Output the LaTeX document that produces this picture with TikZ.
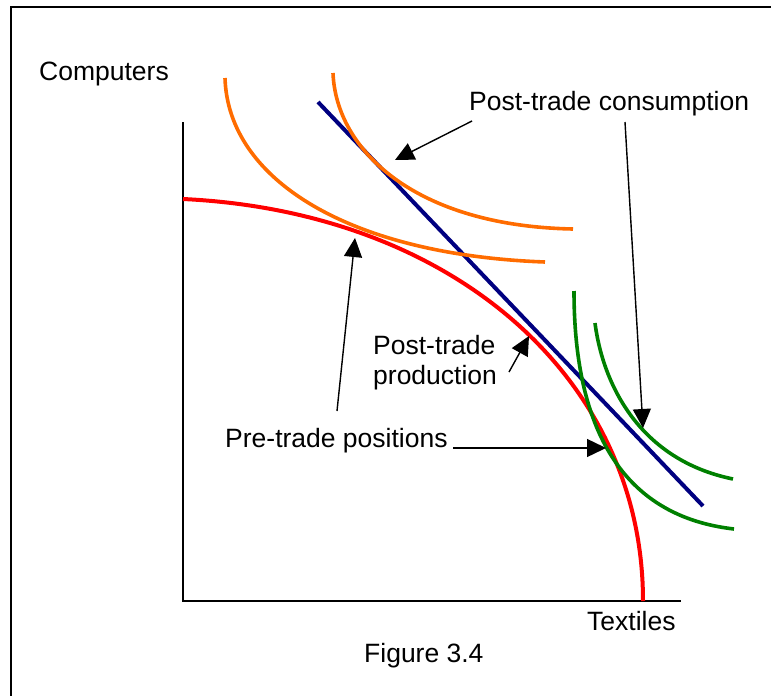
\documentclass[tikz,border=0pt]{standalone}
\usepackage{fontspec}
\setmainfont{Liberation Sans}
\usepackage{tikz}
\usetikzlibrary{arrows.meta}
\definecolor{PPFRed}{RGB}{255,0,0}
\definecolor{ICOrange}{RGB}{255,108,0}
\definecolor{ICGreen}{RGB}{0,128,0}
\definecolor{TradeNavy}{RGB}{0,0,128}

\begin{document}
\begin{tikzpicture}[
  x=1pt, y=-1pt,
  lbl/.style={
    inner sep=0pt, anchor=base west,
    font=\fontsize{26.5}{30}\selectfont
  },
  axis/.style={draw=black, line width=2pt},
  ppf/.style={draw=PPFRed, line width=4pt},
  icor/.style={draw=ICOrange, line width=3.6pt},
  icgr/.style={draw=ICGreen, line width=3.6pt},
  tradeline/.style={draw=TradeNavy, line width=4pt},
  arr/.style={draw=black, line width=1.4pt,
    -{Triangle[length=19pt,width=18pt]}}
]
\useasboundingbox (0,0) rectangle (771,696);

%% Frame
\draw[line width=2pt] (11,696) -- (11,7) -- (771,7);

%% Axes
\coordinate (o) at (183,601);
\draw[axis] (183,122) -- (o) -- (681,601);
\node[lbl] (comp) at (39,80) {Computers};
\node[lbl] (tex) at (587,630) {Textiles};
\node[lbl] (fig) at (364,662) {Figure 3.4};

%% Production possibility frontier
\draw[ppf] (183,199) .. controls (455,212) and (643,380) .. (643,601);

%% Terms of trade line
\draw[tradeline] (318,102) -- (703,506);

%% Indifference curves
\draw[icor] (225,78) .. controls (228,180) and (350,255) .. (545,262);
\draw[icor] (333,73) .. controls (336,150) and (415,226) .. (573,229);
\draw[icgr] (574,291) .. controls (574,410) and (610,515) .. (734,529);
\draw[icgr] (595,323) .. controls (603,385) and (640,460) .. (733,479);

%% Labels
\node[lbl] (cons) at (469,110) {Post-trade consumption};
\node[lbl, align=left, anchor=north west] (prod) at (373,335)
  {Post-trade\\production};
\node[lbl] (pre) at (225,447) {Pre-trade positions};

%% Arrow ends
\coordinate (consA0) at (472,121);
\coordinate (consA) at (395,160);
\coordinate (consB0) at (625,122);
\coordinate (consB) at (643,428);
\coordinate (prod0) at (509,372);
\coordinate (prodP) at (529,336);
\coordinate (preA0) at (337,411);
\coordinate (preA) at (355,238);
\coordinate (preB0) at (453,448);
\coordinate (preB) at (606,448);

%% Arrows
\draw[arr] (consA0) -- (consA);
\draw[arr] (consB0) -- (consB);
\draw[arr] (prod0) -- (prodP);
\draw[arr] (preA0) -- (preA);
\draw[arr] (preB0) -- (preB);

\end{tikzpicture}
\end{document}
